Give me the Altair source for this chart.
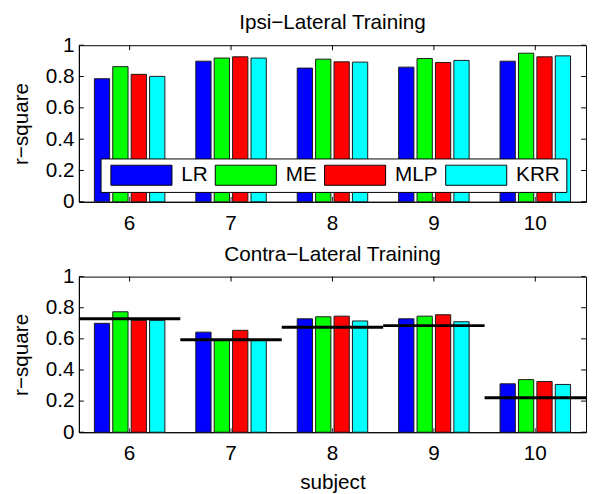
import altair as alt
import pandas as pd

subjects = [6, 7, 8, 9, 10]
methods = ["LR", "ME", "MLP", "KRR"]
colors = ["#0000ff", "#00ff00", "#ff0000", "#00ffff"]

ipsi_LR = [0.786, 0.898, 0.854, 0.860, 0.898]
ipsi_ME = [0.863, 0.918, 0.911, 0.915, 0.949]
ipsi_MLP = [0.814, 0.926, 0.894, 0.890, 0.926]
ipsi_KRR = [0.801, 0.918, 0.892, 0.903, 0.932]

contra_LR = [0.700, 0.643, 0.729, 0.729, 0.311]
contra_ME = [0.774, 0.590, 0.742, 0.746, 0.338]
contra_MLP = [0.719, 0.655, 0.746, 0.755, 0.326]
contra_KRR = [0.719, 0.590, 0.715, 0.710, 0.307]
contra_ref = [0.729, 0.594, 0.674, 0.685, 0.222]

y_ticks = [0, 0.2, 0.4, 0.6, 0.8, 1.0]
FONT = "Liberation Sans"
FS = 21


def long_df(series):
    rows = []
    for m, vals in zip(methods, series):
        for s, v in zip(subjects, vals):
            rows.append({"subject": s, "method": m, "value": v})
    return pd.DataFrame(rows)


ipsi_df = long_df([ipsi_LR, ipsi_ME, ipsi_MLP, ipsi_KRR])
contra_df = long_df([contra_LR, contra_ME, contra_MLP, contra_KRR])
ref_df = pd.DataFrame({"subject": subjects, "value": contra_ref})
xtick_df = pd.DataFrame({"subject": subjects})
ytick_df = pd.DataFrame({"value": y_ticks})

W = 515
H = 159
STEP = W / len(subjects)
TL = 5  # inward tick length


def x_enc(xtitle):
    return alt.X(
        "subject:O",
        sort=subjects,
        scale=alt.Scale(paddingInner=0, paddingOuter=0),
        axis=alt.Axis(labelAngle=0, title=xtitle, labelPadding=11, titlePadding=8),
    )


def y_enc():
    return alt.Y(
        "value:Q",
        scale=alt.Scale(domain=[0, 1], nice=False),
        axis=alt.Axis(values=y_ticks, format=".1~f", title="r\u2212square",
                      labelPadding=5, titlePadding=14),
    )


def color_enc(legend):
    return alt.Color("method:N", sort=methods,
                     scale=alt.Scale(domain=methods, range=colors),
                     legend=legend)


legend_top = alt.Legend(
    title=None,
    orient="none",
    direction="horizontal",
    legendX=22,
    legendY=115,
    symbolType="M-1,-0.33L1,-0.33L1,0.33L-1,0.33Z",
    symbolSize=3844,
    symbolStrokeColor="black",
    symbolStrokeWidth=1,
    symbolOpacity=1,
    symbolOffset=4,
    clipHeight=22,
    labelFontSize=FS,
    labelFont=FONT,
    labelColor="black",
    labelOffset=9,
    columnPadding=3,
    padding=6,
    strokeColor="black",
    fillColor="white",
)


def bar_layer(df, legend, xtitle):
    return alt.Chart(df).mark_bar(stroke="#1a1a1a", strokeWidth=1, opacity=1).encode(
        x=x_enc(xtitle),
        xOffset=alt.XOffset("method:N", sort=methods,
                            scale=alt.Scale(paddingInner=0.17, paddingOuter=0.84)),
        y=y_enc(),
        color=color_enc(legend),
    )


def tick_layers(xtitle):
    top_t = alt.Chart(xtick_df).mark_rule(color="black", strokeWidth=1).encode(
        x=x_enc(xtitle), y=alt.value(0), y2=alt.value(TL))
    bot_t = alt.Chart(xtick_df).mark_rule(color="#333333", strokeWidth=1).encode(
        x=x_enc(xtitle), y=alt.value(H - TL), y2=alt.value(H))
    left_t = alt.Chart(ytick_df).mark_rule(color="black", strokeWidth=1).encode(
        y=y_enc(), x=alt.value(0), x2=alt.value(TL))
    right_t = alt.Chart(ytick_df).mark_rule(color="black", strokeWidth=1).encode(
        y=y_enc(), x=alt.value(W - TL), x2=alt.value(W))
    return [top_t, bot_t, left_t, right_t]


def title(text):
    return alt.TitleParams(text, fontSize=FS, font=FONT, fontWeight="normal",
                           offset=1, color="black")


top = alt.layer(
    *tick_layers(None), bar_layer(ipsi_df, legend_top, None)
).properties(width=W, height=H, title=title("Ipsi\u2212Lateral Training"))

ref_lines = alt.Chart(ref_df).mark_tick(color="black", thickness=3, size=STEP, opacity=1).encode(
    x=x_enc("subject"),
    y=y_enc(),
)

bottom = alt.layer(
    *tick_layers("subject"), bar_layer(contra_df, None, "subject"), ref_lines
).properties(width=W, height=H - 1, title=title("Contra\u2212Lateral Training"))

chart = alt.vconcat(top, bottom, spacing=9).resolve_scale(
    color="independent"
).properties(
    padding={"left": 2, "top": 0, "right": 0, "bottom": 0},
    background="white",
).configure_view(
    stroke="black", strokeWidth=1
).configure_axis(
    grid=False,
    domainColor="black",
    tickSize=0,
    labelFont=FONT,
    labelFontSize=FS,
    labelColor="black",
    titleFont=FONT,
    titleFontSize=FS,
    titleFontWeight="normal",
    titleColor="black",
)

chart.save("out.html", embed_options={"renderer": "svg", "actions": False})
